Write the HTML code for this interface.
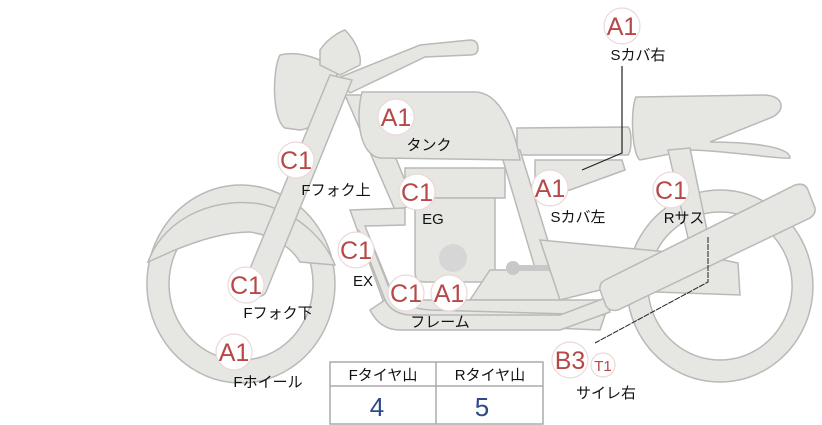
<!DOCTYPE html>
<html><head><meta charset="utf-8"><style>
body{margin:0;background:#fff;}
svg{display:block}
.p{fill:#e6e6e3;stroke:#b9b9b7;stroke-width:1.5}
.b{fill:#fff;stroke:#ecd8d8;stroke-width:1.2}
.bt{font-family:"Liberation Sans",sans-serif;font-size:25px;fill:#b84848;text-anchor:middle}
.l{font-family:"Liberation Sans","Noto Sans CJK JP",sans-serif;font-size:15px;fill:#111;text-anchor:middle}
</style></head><body>
<svg width="822" height="425" viewBox="0 0 822 425">
<!-- front wheel -->
<path class="p" fill-rule="evenodd" d="M241,185 A94,99 0 1,1 240.9,185 Z M241,208 A72,76 0 1,0 241.1,208 Z"/>
<path class="p" d="M148,262 C165,215 220,195 265,205 C300,215 325,240 335,265 L300,262 C290,245 270,235 250,232 C225,232 200,240 175,250 Z"/>
<!-- rear wheel -->
<path class="p" fill-rule="evenodd" d="M720,190 A93,96 0 1,1 719.9,190 Z M720,212 A72,74 0 1,0 720.1,212 Z"/>
<!-- rear seat -->
<path class="p" d="M636,97 L765,95 C785,96 786,112 770,118 L710,142 C740,142 790,145 790,158 C785,160 720,150 690,150 L640,160 C632,155 630,110 636,97 Z"/>
<!-- rear shock -->
<path class="p" d="M668,150 L690,148 L708,235 L688,238 Z"/>
<!-- side cover -->
<path class="p" d="M535,160 L622,160 L625,170 L570,190 L535,195 Z"/>
<!-- seat -->
<path class="p" d="M517,128 L628,127 C632,130 632,150 628,155 L517,155 Z"/>
<!-- frame tubes -->
<path class="p" d="M345,95 L370,95 L415,205 L395,210 Z"/>
<path class="p" d="M500,150 L520,150 L560,280 L540,285 Z"/>
<!-- engine -->
<rect class="p" x="405" y="168" width="100" height="30"/>
<path class="p" d="M415,198 L495,198 L495,272 Q495,282 485,282 L425,282 Q415,282 415,272 Z"/>
<circle cx="453" cy="258" r="14" fill="#d6d6d6"/>
<!-- lower frame -->
<path class="p" d="M490,270 L560,270 L562,300 L470,300 Z"/>
<line x1="513" y1="268" x2="558" y2="268" stroke="#c8c8c8" stroke-width="6"/>
<circle cx="513" cy="268" r="7" fill="#c8c8c8"/><circle cx="555" cy="268" r="7" fill="#c8c8c8"/>
<path class="p" d="M540,240 L700,255 L738,263 L740,295 L600,290 L560,300 Z"/>
<!-- exhaust pipe -->
<path class="p" d="M350,210 L405,208 L405,225 L365,226 L395,300 L605,300 L600,314 L388,314 Z"/>
<path class="p" d="M358,230 L385,300 Q395,320 410,322 L600,330 L605,315 L430,310 Q400,308 390,290 L372,245 Z"/>
<path class="p" d="M370,310 Q380,330 400,330 L560,330 L610,312 L605,298 L560,315 L410,315 Q392,314 385,300 Z"/>
<!-- muffler -->
<path class="p" d="M605,280 L795,185 Q805,182 808,190 L815,208 Q816,214 810,218 L618,310 Q610,312 606,306 L600,290 Q599,283 605,280 Z"/>
<!-- tank -->
<path class="p" d="M362,92 L475,92 C500,92 515,130 520,160 L380,158 C360,155 355,120 362,92 Z"/>
<!-- headlight -->
<path class="p" d="M280,55 C300,50 325,60 335,70 C342,85 338,95 330,100 C325,115 315,128 300,130 L285,128 C272,120 272,70 280,55 Z"/>
<path class="p" d="M320,50 C330,35 345,30 345,30 C355,40 362,55 360,65 L340,75 L320,65 Z"/>
<!-- handlebar -->
<path class="p" d="M338,78 L420,45 L470,40 Q478,40 478,48 Q478,55 470,55 L425,57 L350,93 Z"/>
<!-- fork -->
<path class="p" d="M330,75 L352,80 L266,292 C262,300 245,298 242,288 Z"/>
<!-- annotation lines -->
<polyline points="622,66 622,153 582,170" fill="none" stroke="#222" stroke-width="1.2"/>
<polyline points="708,237 708,282 595,343" fill="none" stroke="#222" stroke-width="1" stroke-dasharray="6,1"/>
<!-- table -->
<rect x="330" y="362" width="213" height="62" fill="#fff" stroke="#aaa" stroke-width="1.5"/>
<line x1="330" y1="386" x2="543" y2="386" stroke="#aaa" stroke-width="1.5"/>
<line x1="436" y1="362" x2="436" y2="424" stroke="#aaa" stroke-width="1.5"/>
<text class="l" x="383" y="380">Fタイヤ山</text>
<text class="l" x="490" y="380">Rタイヤ山</text>
<text x="377" y="416" style="font-family:'Liberation Sans',sans-serif;font-size:26px;fill:#2e4a8a;text-anchor:middle">4</text>
<text x="482" y="416" style="font-family:'Liberation Sans',sans-serif;font-size:26px;fill:#2e4a8a;text-anchor:middle">5</text>
<!-- badges -->
<g>
<circle class="b" cx="622" cy="26" r="18"/><text class="bt" x="622" y="35">A1</text>
<circle class="b" cx="396" cy="117" r="18"/><text class="bt" x="396" y="126">A1</text>
<circle class="b" cx="296" cy="160" r="18"/><text class="bt" x="296" y="169">C1</text>
<circle class="b" cx="417" cy="192" r="18"/><text class="bt" x="417" y="201">C1</text>
<circle class="b" cx="550" cy="188" r="18"/><text class="bt" x="550" y="197">A1</text>
<circle class="b" cx="671" cy="190" r="18"/><text class="bt" x="671" y="199">C1</text>
<circle class="b" cx="356" cy="250" r="18"/><text class="bt" x="356" y="259">C1</text>
<circle class="b" cx="246" cy="285" r="18"/><text class="bt" x="246" y="294">C1</text>
<circle class="b" cx="406" cy="293" r="18"/><text class="bt" x="406" y="302">C1</text>
<circle class="b" cx="449" cy="293" r="18"/><text class="bt" x="449" y="302">A1</text>
<circle class="b" cx="234" cy="352" r="18"/><text class="bt" x="234" y="361">A1</text>
<circle class="b" cx="570" cy="360" r="18"/><text class="bt" x="570" y="369">B3</text>
<circle class="b" cx="603" cy="365" r="12"/><text x="603" y="371" style="font-family:'Liberation Sans',sans-serif;font-size:15px;fill:#b84848;text-anchor:middle">T1</text>
</g>
<text class="l" x="638" y="60">Sカバ右</text>
<text class="l" x="429" y="150">タンク</text>
<text class="l" x="336" y="195">Fフォク上</text>
<text class="l" x="433" y="224">EG</text>
<text class="l" x="578" y="222">Sカバ左</text>
<text class="l" x="684" y="223">Rサス</text>
<text class="l" x="363" y="286">EX</text>
<text class="l" x="278" y="318">Fフォク下</text>
<text class="l" x="440" y="327">フレーム</text>
<text class="l" x="268" y="387">Fホイール</text>
<text class="l" x="606" y="398">サイレ右</text>
</svg>
</body></html>
